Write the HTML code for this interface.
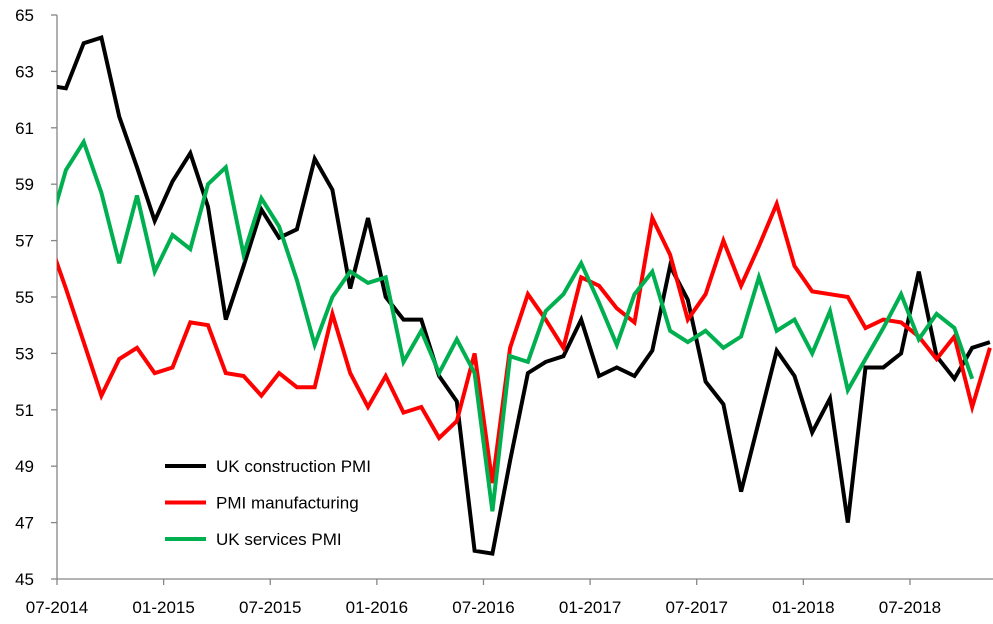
<!DOCTYPE html>
<html><head><meta charset="utf-8"><style>
html,body{margin:0;padding:0;background:#fff;width:993px;height:624px;overflow:hidden}
svg text{font-family:"Liberation Sans",sans-serif;fill:#000}
</style></head><body>
<svg id="chart" width="993" height="624">
<defs><clipPath id="plotclip"><rect x="57" y="0" width="936" height="600"/></clipPath></defs>
<g id="axes"></g>
<g id="series" clip-path="url(#plotclip)"></g>
<g id="legend"></g>
</svg>
<script>
// months from 06-2014
const tickLabels = ["07-2014","01-2015","07-2015","01-2016","07-2016","01-2017","07-2017","01-2018","07-2018"];
const yTicks = [45,47,49,51,53,55,57,59,61,63,65];
const construction = [62.5,62.4,64.0,64.2,61.4,59.6,57.7,59.1,60.1,58.2,54.2,56.1,58.1,57.1,57.4,59.9,58.8,55.3,57.8,55.0,54.2,54.2,52.2,51.3,46.0,45.9,49.2,52.3,52.7,52.9,54.2,52.2,52.5,52.2,53.1,56.1,54.9,52.0,51.2,48.1,50.6,53.1,52.2,50.2,51.4,47.0,52.5,52.5,53.0,55.9,52.9,52.1,53.2,53.4];
const manufacturing = [57.1,55.3,53.4,51.5,52.8,53.2,52.3,52.5,54.1,54.0,52.3,52.2,51.5,52.3,51.8,51.8,54.4,52.3,51.1,52.2,50.9,51.1,50.0,50.6,53.0,48.4,53.2,55.1,54.2,53.2,55.7,55.4,54.6,54.1,57.8,56.5,54.2,55.1,57.0,55.4,56.8,58.3,56.1,55.2,55.1,55.0,53.9,54.2,54.1,53.6,52.8,53.6,51.1,53.2];
const services = [57.3,59.5,60.5,58.7,56.2,58.6,55.9,57.2,56.7,59.0,59.6,56.5,58.5,57.5,55.6,53.3,55.0,55.9,55.5,55.7,52.7,53.8,52.3,53.5,52.3,47.4,52.9,52.7,54.5,55.1,56.2,54.8,53.3,55.1,55.9,53.8,53.4,53.8,53.2,53.6,55.7,53.8,54.2,53.0,54.5,51.7,52.8,53.9,55.1,53.5,54.4,53.9,52.1];
const seriesNames = ["UK construction PMI","PMI manufacturing","UK services PMI"];
const seriesColors = ["#000000","#ff0000","#00b050"];

const NS="http://www.w3.org/2000/svg";
const STEP=17.77;
function xScale(i){return 57+STEP*(i-0.5);}
function yScale(v){return 579-(v-45)*28.2;}
function mk(tag,attrs,parent){const e=document.createElementNS(NS,tag);for(const k in attrs)e.setAttribute(k,attrs[k]);parent.appendChild(e);return e;}

const axes=document.getElementById('axes');
const ya=mk('line',{x1:57,y1:yScale(65),x2:57,y2:579,stroke:'#868686','stroke-width':1.3},axes);


const xa=mk('line',{x1:57,y1:579,x2:993,y2:579,stroke:'#868686','stroke-width':1.3},axes);


yTicks.forEach(v=>{
  const y=yScale(v);
  mk('line',{x1:51,y1:y,x2:57,y2:y,stroke:'#868686','stroke-width':1.3},axes);
  const t=mk('text',{x:34,y:y+6,'text-anchor':'end','font-size':17},axes);
  t.textContent=v;
  
  
});
tickLabels.forEach((lab,k)=>{
  const x=xScale(1+6*k)-STEP/2;
  mk('line',{x1:x,y1:579,x2:x,y2:585,stroke:'#868686','stroke-width':1.3},axes);
  const t=mk('text',{x:x,y:613,'text-anchor':'middle','font-size':17},axes);
  t.textContent=lab;
  
  
});

const sg=document.getElementById('series');
[construction,manufacturing,services].forEach((arr,s)=>{
  const d=arr.map((v,i)=>(i?'L':'M')+xScale(i).toFixed(1)+','+yScale(v).toFixed(1)).join(' ');
  const p=mk('path',{d:d,fill:'none',stroke:seriesColors[s],'stroke-width':4,'stroke-linejoin':'miter'},sg);
  
  
});

const lg=document.getElementById('legend');
seriesNames.forEach((n,s)=>{
  const y=466+36.5*s;
  const g=mk('g',{},lg);
  
  
  mk('line',{x1:165,y1:y,x2:206,y2:y,stroke:seriesColors[s],'stroke-width':4},g);
  const t=mk('text',{x:216,y:y+6,'font-size':17},g);
  t.textContent=n;
});
</script>
</body></html>
